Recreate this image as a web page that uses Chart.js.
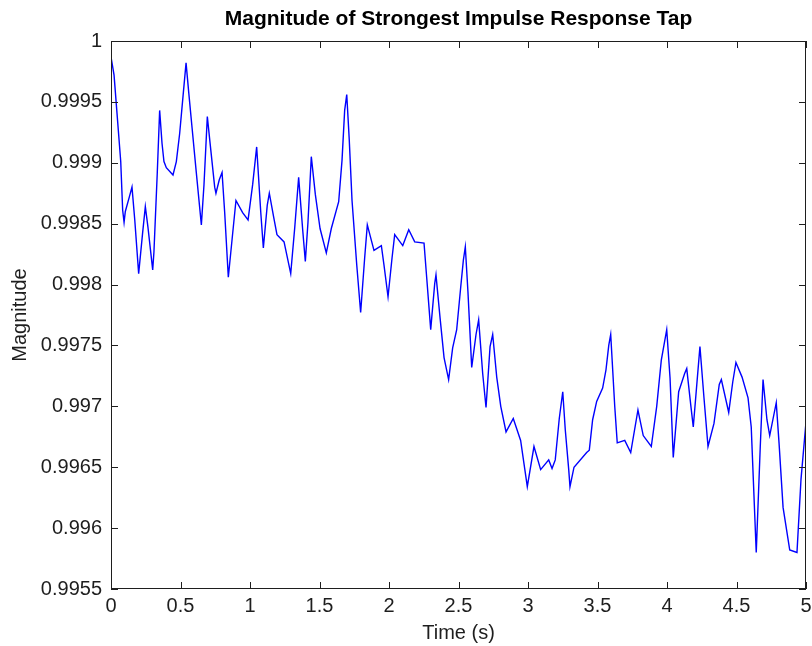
<!DOCTYPE html>
<html>
<head>
<meta charset="UTF-8">
<title>Magnitude of Strongest Impulse Response Tap</title>
<script src="https://cdn.jsdelivr.net/npm/chart.js"></script>
<style>
  html, body { margin: 0; padding: 0; background: #fff; }
  #wrap { width: 812px; height: 646px; position: relative; }
</style>
</head>
<body>
<div id="wrap"><canvas id="tapChart"></canvas></div>
<script>
// time axis (s) and magnitude of the strongest tap at each sample
const times = [0, 0.022, 0.043, 0.070, 0.084, 0.094, 0.103, 0.132, 0.151, 0.171,
  0.199, 0.228, 0.247, 0.266, 0.300, 0.309, 0.333, 0.350, 0.367, 0.381,
  0.398, 0.446, 0.470, 0.494, 0.520, 0.540, 0.559, 0.583, 0.612, 0.650,
  0.669, 0.693, 0.712, 0.746, 0.755, 0.779, 0.799, 0.818, 0.844, 0.871,
  0.899, 0.947, 0.986, 1.019, 1.048, 1.077, 1.096, 1.124, 1.139, 1.171,
  1.194, 1.245, 1.293, 1.322, 1.350, 1.379, 1.398, 1.417, 1.441, 1.470,
  1.504, 1.549, 1.585, 1.638, 1.662, 1.681, 1.696, 1.714, 1.734, 1.768,
  1.796, 1.825, 1.844, 1.892, 1.945, 1.964, 1.993, 2.022, 2.041, 2.099,
  2.142, 2.185, 2.252, 2.271, 2.300, 2.329, 2.338, 2.367, 2.396, 2.429,
  2.458, 2.487, 2.516, 2.535, 2.549, 2.568, 2.595, 2.626, 2.645, 2.674,
  2.698, 2.727, 2.746, 2.775, 2.804, 2.842, 2.894, 2.947, 2.976, 2.995,
  3.043, 3.091, 3.149, 3.173, 3.196, 3.225, 3.250, 3.268, 3.293, 3.302,
  3.331, 3.422, 3.441, 3.465, 3.494, 3.537, 3.561, 3.581, 3.595, 3.624,
  3.642, 3.696, 3.739, 3.791, 3.829, 3.887, 3.926, 3.959, 3.998, 4.022,
  4.045, 4.084, 4.127, 4.142, 4.171, 4.189, 4.218, 4.237, 4.266, 4.295,
  4.338, 4.376, 4.391, 4.444, 4.473, 4.496, 4.540, 4.583, 4.606, 4.642,
  4.671, 4.691, 4.719, 4.739, 4.786, 4.806, 4.835, 4.883, 4.935, 4.964,
  5.000];

const magnitudes = [0.99987, 0.99972, 0.99941, 0.99901, 0.99861, 0.99851, 0.99860, 0.99872, 0.99880, 0.99853,
  0.99809, 0.99843, 0.99864, 0.99847, 0.99812, 0.99827, 0.99892, 0.99943, 0.99916, 0.99901,
  0.99896, 0.99890, 0.99901, 0.99924, 0.99957, 0.99982, 0.99958, 0.99929, 0.99894, 0.99849,
  0.99882, 0.99938, 0.99917, 0.99880, 0.99875, 0.99886, 0.99892, 0.99859, 0.99806, 0.99837,
  0.99869, 0.99859, 0.99853, 0.99882, 0.99913, 0.99860, 0.99830, 0.99865, 0.99875, 0.99855,
  0.99841, 0.99835, 0.99809, 0.99847, 0.99888, 0.99845, 0.99819, 0.99851, 0.99905, 0.99874,
  0.99846, 0.99826, 0.99846, 0.99868, 0.99902, 0.99943, 0.99956, 0.99919, 0.99869, 0.99816,
  0.99777, 0.99822, 0.99849, 0.99828, 0.99832, 0.99816, 0.99790, 0.99822, 0.99841, 0.99832,
  0.99845, 0.99835, 0.99834, 0.99806, 0.99763, 0.99801, 0.99808, 0.99773, 0.99740, 0.99722,
  0.99748, 0.99763, 0.99798, 0.99820, 0.99831, 0.99794, 0.99732, 0.99759, 0.99771, 0.99727,
  0.99699, 0.99749, 0.99759, 0.99724, 0.99700, 0.99679, 0.99690, 0.99672, 0.99649, 0.99634,
  0.99667, 0.99648, 0.99656, 0.99649, 0.99656, 0.99690, 0.99712, 0.99681, 0.99648, 0.99634,
  0.99650, 0.99662, 0.99664, 0.99689, 0.99704, 0.99715, 0.99730, 0.99750, 0.99759, 0.99700,
  0.99670, 0.99672, 0.99662, 0.99697, 0.99676, 0.99667, 0.99700, 0.99738, 0.99763, 0.99723,
  0.99658, 0.99712, 0.99727, 0.99731, 0.99701, 0.99683, 0.99723, 0.99749, 0.99707, 0.99667,
  0.99686, 0.99718, 0.99722, 0.99695, 0.99720, 0.99736, 0.99724, 0.99707, 0.99683, 0.99580,
  0.99667, 0.99722, 0.99689, 0.99676, 0.99703, 0.99670, 0.99617, 0.99582, 0.99580, 0.99640,
  0.99687];

const xRange = [0, 5];
const xStep = 0.5;
const yRange = [0.9955, 1];
const yStep = 0.0005;

const axisColor = '#1e1e1e';
const font = "'Liberation Sans', Arial, Helvetica, sans-serif";

// axes box with inward tick marks on all four sides
const boxFrame = {
  id: 'boxFrame',
  afterDraw(chart) {
    const { ctx, chartArea: a, scales: { x, y } } = chart;
    const len = 7;
    ctx.save();
    ctx.strokeStyle = axisColor;
    ctx.lineWidth = 1;
    ctx.strokeRect(a.left + 0.5, a.top + 0.5, a.right - a.left - 1, a.bottom - a.top - 1);
    ctx.beginPath();
    x.ticks.forEach(t => {
      const px = Math.round(x.getPixelForValue(t.value)) + 0.5;
      ctx.moveTo(px, a.bottom); ctx.lineTo(px, a.bottom - len);
      ctx.moveTo(px, a.top); ctx.lineTo(px, a.top + len);
    });
    y.ticks.forEach(t => {
      const py = Math.round(y.getPixelForValue(t.value)) + 0.5;
      ctx.moveTo(a.left, py); ctx.lineTo(a.left + len, py);
      ctx.moveTo(a.right, py); ctx.lineTo(a.right - len, py);
    });
    ctx.stroke();
    ctx.restore();
  }
};

new Chart(document.getElementById('tapChart'), {
  type: 'line',
  data: {
    datasets: [{
      data: times.map((t, i) => ({ x: t, y: magnitudes[i] })),
      borderColor: '#0000ff',
      borderWidth: 1.4,
      pointRadius: 0,
      tension: 0,
      fill: false
    }]
  },
  options: {
    responsive: true,
    maintainAspectRatio: false,
    animation: false,
    layout: { padding: { left: 0, right: 0, top: 0, bottom: 0 } },
    plugins: {
      legend: { display: false },
      tooltip: { enabled: false },
      title: {
        display: true,
        text: 'Magnitude of Strongest Impulse Response Tap',
        fullSize: false,
        color: '#000',
        font: { family: font, size: 21, weight: 'bold', lineHeight: 1.2 },
        padding: { top: 7, bottom: 8.8 }
      }
    },
    scales: {
      x: {
        type: 'linear',
        min: xRange[0],
        max: xRange[1],
        grid: { display: false, drawTicks: false, tickLength: 0 },
        border: { display: false },
        ticks: {
          stepSize: xStep,
          padding: 5,
          color: axisColor,
          maxRotation: 0,
          font: { family: font, size: 20 },
          callback: v => String(Number(v.toFixed(2)))
        },
        title: {
          display: true,
          text: 'Time (s)',
          color: axisColor,
          font: { family: font, size: 20 },
          padding: { top: 0, bottom: 1 }
        },
        afterFit(scale) {
          scale.height = 57;
          scale.paddingLeft = 0;
          scale.paddingRight = 6;
        }
      },
      y: {
        min: yRange[0],
        max: yRange[1],
        grid: { display: false, drawTicks: false, tickLength: 0 },
        border: { display: false },
        ticks: {
          stepSize: yStep,
          padding: 9,
          color: axisColor,
          font: { family: font, size: 20 },
          callback: v => String(Number(v.toFixed(4)))
        },
        title: {
          display: true,
          text: 'Magnitude',
          color: axisColor,
          font: { family: font, size: 20 },
          padding: { top: 8, bottom: 0 }
        },
        afterFit(scale) { scale.width = 111; }
      }
    }
  },
  plugins: [boxFrame]
});
</script>
</body>
</html>
